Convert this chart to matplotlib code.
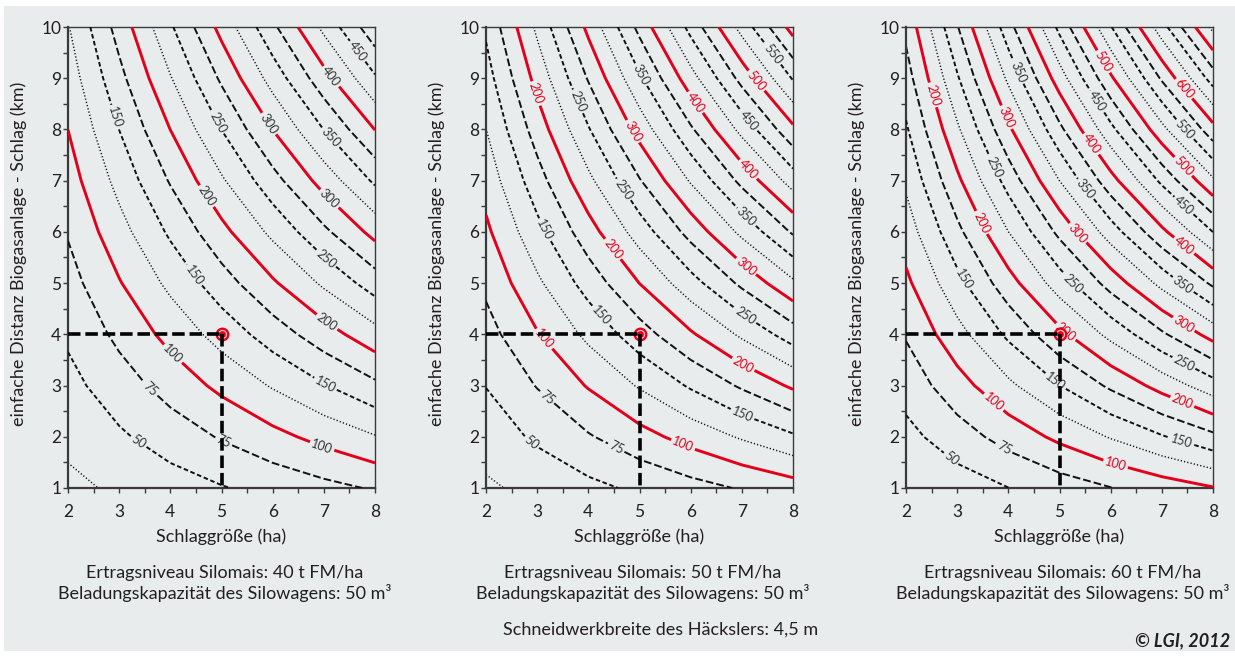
import numpy as np
import matplotlib
matplotlib.use("Agg")
import matplotlib.pyplot as plt
from matplotlib.patches import Rectangle

plt.rcParams['font.family'] = ['Lato', 'DejaVu Sans']
plt.rcParams['lines.scale_dashes'] = False

# ---------------------------------------------------------------- data
area_ha = [2, 3, 4, 5, 6, 7, 8]                     # Schlaggröße (ha)
distance_km = [1, 2, 3, 4, 5, 6, 7, 8, 9, 10]       # einfache Distanz (km)

# value grids: one row per distance, one column per field size
grid_40t = [
    [19.3, 29.0, 38.7, 48.4, 58.0, 67.7, 77.4],
    [30.9, 46.3, 61.8, 77.2, 92.6, 108.1, 123.5],
    [42.4, 63.6, 84.8, 106.1, 127.3, 148.5, 169.7],
    [54.0, 80.9, 107.9, 134.9, 161.9, 188.9, 215.8],
    [65.5, 98.3, 131.0, 163.8, 196.5, 229.3, 262.0],
    [77.0, 115.6, 154.1, 192.6, 231.1, 269.6, 308.2],
    [88.6, 132.9, 177.2, 221.5, 265.7, 310.0, 354.3],
    [100.1, 150.2, 200.2, 250.3, 300.4, 350.4, 400.5],
    [111.7, 167.5, 223.3, 279.2, 335.0, 390.8, 446.6],
    [123.2, 184.8, 246.4, 308.0, 369.6, 431.2, 492.8],
]
grid_50t = [
    [21.1, 32.3, 43.5, 54.7, 65.9, 77.1, 88.3],
    [35.9, 54.3, 72.7, 91.1, 109.5, 127.9, 146.3],
    [50.7, 76.3, 101.9, 127.5, 153.1, 178.7, 204.3],
    [65.5, 98.3, 131.1, 163.9, 196.7, 229.5, 262.3],
    [80.3, 120.3, 160.3, 200.3, 240.3, 280.3, 320.3],
    [95.1, 142.3, 189.5, 236.7, 283.9, 331.1, 378.3],
    [109.9, 164.3, 218.7, 273.1, 327.5, 381.9, 436.3],
    [124.7, 186.3, 247.9, 309.5, 371.1, 432.7, 494.3],
    [139.5, 208.3, 277.1, 345.9, 414.7, 483.5, 552.3],
    [154.3, 230.3, 306.3, 382.3, 458.3, 534.3, 610.3],
]
grid_60t = [
    [25.3, 37.5, 49.7, 62.0, 74.2, 86.4, 98.6],
    [42.6, 63.7, 84.7, 105.8, 126.9, 147.9, 169.0],
    [60.0, 89.9, 119.8, 149.7, 179.5, 209.4, 239.3],
    [77.3, 116.1, 154.8, 193.5, 232.2, 270.9, 309.7],
    [94.7, 142.3, 189.8, 237.4, 284.9, 332.5, 380.0],
    [112.1, 168.4, 224.8, 281.2, 337.6, 394.0, 450.3],
    [129.4, 194.6, 259.8, 325.1, 390.3, 455.5, 520.7],
    [146.8, 220.8, 294.9, 368.9, 442.9, 517.0, 591.0],
    [164.1, 247.0, 329.9, 412.8, 495.6, 578.5, 661.4],
    [181.5, 273.2, 364.9, 456.6, 548.3, 640.0, 731.7],
]

yield_t_ha = [40, 50, 60]
wagon_m3 = 50
cutter_width_m = "4,5"

marked_area = 5
marked_distance = 4

labelled_levels = [50, 75] + list(range(100, 750, 50))
plain_levels = [25] + list(range(125, 750, 50))

# label anchor points for each panel (area, distance)
label_spots = [
    [(2.92, 8.24), (4.91, 8.13), (5.89, 8.09), (4.68, 6.68), (7.08, 6.62),
     (7.12, 9.02), (7.08, 7.79), (7.61, 9.49), (7.02, 5.45), (4.42, 5.12),
     (7.02, 4.18), (4.03, 3.6), (7.02, 3.01), (3.6, 2.91), (6.96, 1.8),
     (3.37, 1.88), (5.03, 1.88)],
    [(3.0, 8.71), (3.78, 8.54), (5.01, 9.06), (4.85, 7.95), (6.08, 8.52),
     (7.26, 8.93), (7.59, 9.45), (7.12, 8.15), (4.68, 6.82), (3.15, 6.04),
     (4.46, 5.65), (7.1, 7.2), (7.1, 6.3), (7.1, 5.35), (7.06, 4.34),
     (7.02, 3.4), (4.23, 4.34), (3.11, 3.89), (7.02, 2.46), (5.83, 1.8),
     (3.15, 2.72), (4.52, 1.74), (2.9, 1.9)],
    [(2.51, 8.67), (4.19, 9.12), (3.97, 8.24), (5.85, 9.32), (7.45, 8.81),
     (5.73, 8.54), (5.6, 7.7), (7.45, 7.99), (3.7, 7.25), (7.41, 7.27),
     (5.54, 6.86), (7.41, 6.49), (3.45, 6.17), (5.36, 5.98), (7.41, 5.7),
     (3.11, 5.06), (5.24, 4.96), (7.41, 4.96), (7.39, 4.14), (5.07, 3.99),
     (7.41, 3.4), (4.91, 3.07), (7.39, 2.66), (3.7, 2.66), (7.39, 1.9),
     (6.08, 1.41), (3.9, 1.74), (2.86, 1.55)],
]

# ---------------------------------------------------------------- style
RED = '#e2001a'
INK = '#111111'
AXIS = '#3a3a3a'
TEXT = '#231f20'
BG = '#e9eced'
FS = 13


def level_style(level):
    rest = level % 100
    if rest == 0:
        return RED, 2.1, 'solid'
    if rest == 25:
        return INK, 1.05, (0, (0.9, 1.5))
    if rest == 50:
        return INK, 1.4, (0, (3.3, 1.9))
    return INK, 1.4, (0, (5.6, 2.2))


def styles_for(levels):
    st = [level_style(lv) for lv in levels]
    return [s[0] for s in st], [s[1] for s in st], [s[2] for s in st]


W, H = 1235, 659
fig = plt.figure(figsize=(W / 100, H / 100), dpi=100, facecolor='white')
fig.patches.append(Rectangle((4 / W, 1 - 651 / H), (W - 4) / W, 645 / H,
                             transform=fig.transFigure, facecolor=BG,
                             edgecolor='none', zorder=-10))

axes_left_px = [68, 486, 906]
ax_w, ax_h = 307, 461
ax_top_px = 27

grids = [grid_40t, grid_50t, grid_60t]
ylabel = 'einfache Distanz Biogasanlage - Schlag (km)'


def fy(py):
    return 1 - py / H


for i, (left_px, grid) in enumerate(zip(axes_left_px, grids)):
    ax = fig.add_axes([left_px / W, 1 - (ax_top_px + ax_h) / H, ax_w / W, ax_h / H])
    ax.set_facecolor(BG)
    X, Y = np.meshgrid(area_ha, distance_km)
    Z = np.array(grid)

    c, w, s = styles_for(plain_levels)
    ax.contour(X, Y, Z, levels=plain_levels, colors=c, linewidths=w,
               linestyles=s, zorder=2)
    c, w, s = styles_for(labelled_levels)
    cs = ax.contour(X, Y, Z, levels=labelled_levels, colors=c, linewidths=w,
                    linestyles=s, zorder=3)
    if i == 0:
        lab_colors = ['#333333'] * len(labelled_levels)
    else:
        lab_colors = [RED if lv % 100 == 0 else '#333333' for lv in labelled_levels]
    ax.clabel(cs, manual=label_spots[i], inline=True, inline_spacing=2,
              fontsize=9, fmt='%d', colors=lab_colors)

    # marked example field
    dash = (0, (9, 3.5))
    ax.plot([area_ha[0], marked_area], [marked_distance, marked_distance],
            color='black', lw=2.6, ls=dash, dash_capstyle='butt', zorder=7)
    ax.plot([marked_area, marked_area], [marked_distance, distance_km[0]],
            color='black', lw=2.6, ls=dash, dash_capstyle='butt', zorder=7)
    ax.plot([marked_area], [marked_distance], 'o', ms=10, color=RED, mec='none', zorder=6)
    ax.plot([marked_area], [marked_distance], 'o', ms=5.8, mfc=RED, mec='#ffc0c0',
            mew=0.9, zorder=6)

    ax.set_xlim(area_ha[0], area_ha[-1])
    ax.set_ylim(distance_km[0], distance_km[-1])
    ax.set_xticks(area_ha)
    ax.set_yticks(distance_km)
    ax.set_xticks(np.arange(2, 8.01, 0.5), minor=True)
    ax.set_yticks(np.arange(1, 10.01, 0.5), minor=True)
    ax.tick_params(which='both', direction='out', length=3.6, width=1.0,
                   color=AXIS, labelsize=12.5, labelcolor=TEXT)
    ax.tick_params(axis='x', which='major', pad=7.6)
    ax.tick_params(axis='y', which='major', pad=1.2)
    for side in ('left', 'bottom'):
        ax.spines[side].set_linewidth(1.6)
        ax.spines[side].set_color(AXIS)
    for side in ('top', 'right'):
        ax.spines[side].set_linewidth(1.0)
        ax.spines[side].set_color(AXIS)

    cx = left_px + ax_w / 2
    fig.text(cx / W, fy(542), 'Schlaggröße (ha)', ha='center', va='baseline',
             fontsize=FS, color=TEXT)
    fig.text((left_px - 49) / W, fy(254), ylabel, rotation=90, ha='center',
             va='center', fontsize=FS, color=TEXT)
    tx = cx + 3
    fig.text(tx / W, fy(578), f'Ertragsniveau Silomais: {yield_t_ha[i]} t FM/ha',
             ha='center', va='baseline', fontsize=FS, color=TEXT)
    fig.text(tx / W, fy(599),
             f'Beladungskapazität des Silowagens: {wagon_m3} m³',
             ha='center', va='baseline', fontsize=FS, color=TEXT)

fig.text(661 / W, fy(635), f'Schneidwerkbreite des Häckslers: {cutter_width_m} m',
         ha='center', va='baseline', fontsize=FS, color=TEXT)
fig.text(1230 / W, fy(646), '© LGI, 2012', ha='right', va='baseline',
         fontsize=FS, fontweight='bold', fontstyle='italic', color=TEXT)

fig.savefig('out.png', dpi=100, facecolor='white')
